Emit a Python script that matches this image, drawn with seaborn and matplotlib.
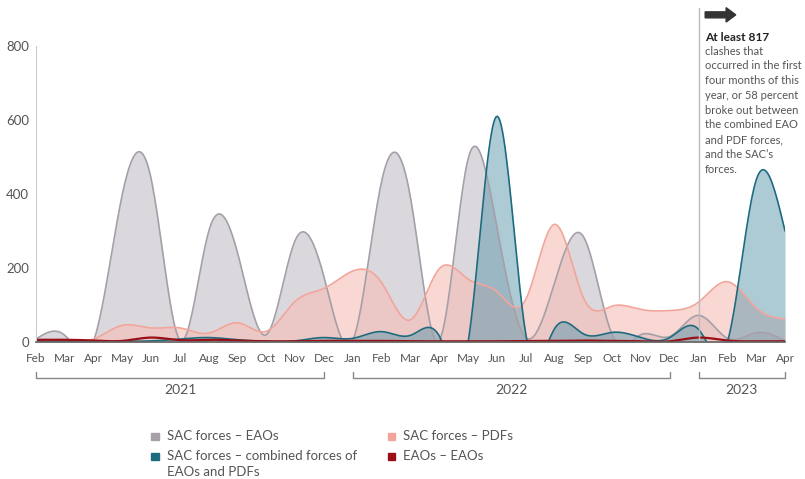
import numpy as np
import pandas as pd
import seaborn as sns
import matplotlib.pyplot as plt
from matplotlib.patches import FancyArrow, Rectangle

# Data (monthly clash counts, Feb 2021 - Apr 2023) ###########################

months = ['Feb', 'Mar', 'Apr', 'May', 'Jun', 'Jul', 'Aug', 'Sep', 'Oct', 'Nov', 'Dec',
          'Jan', 'Feb', 'Mar', 'Apr', 'May', 'Jun', 'Jul', 'Aug', 'Sep', 'Oct', 'Nov', 'Dec',
          'Jan', 'Feb', 'Mar', 'Apr']
years = ['2021', '2022', '2023']

sac_eaos = [8, 18, 3, 400, 440, 5, 300, 240, 20, 275, 175,
            5, 435, 390, 5, 495, 310, 12, 160, 285, 20, 20, 15,
            72, 10, 25, 3]
sac_pdfs = [3, 3, 8, 45, 38, 38, 24, 52, 29, 110, 145,
            192, 160, 60, 198, 170, 136, 115, 318, 120, 97, 88, 85,
            108, 163, 92, 62]
sac_combined = [2, 2, 2, 2, 3, 8, 12, 6, 2, 3, 12,
                10, 28, 18, 16, 0, 610, 22, 36, 22, 26, 12, 12,
                34, 0, 438, 300]
eaos_eaos = [6, 6, 4, 3, 12, 5, 6, 4, 2, 2, 3,
             3, 3, 2, 2, 2, 2, 3, 3, 4, 3, 2, 2,
             12, 4, 2, 2]

series = {
    'SAC forces – EAOs': sac_eaos,
    'SAC forces – PDFs': sac_pdfs,
    'SAC forces – combined forces of\nEAOs and PDFs': sac_combined,
    'EAOs – EAOs': eaos_eaos,
}
line_colors = ['#a59fa8', '#f2a59b', '#1e6b80', '#9a0f16']
fill_colors = ['#c9c3cc', '#f6bdb6', '#5c98ad', '#9a0f16']
fill_alpha = [0.65, 0.6, 0.5, 0.0]


def natural_spline(x, y, xs):
    # smooth curve through the monthly points (area-spline look)
    x = np.asarray(x, float)
    y = np.asarray(y, float)
    n = len(x)
    h = np.diff(x)
    A = np.zeros((n, n))
    b = np.zeros(n)
    A[0, 0] = A[-1, -1] = 1
    for i in range(1, n - 1):
        A[i, i - 1] = h[i - 1]
        A[i, i] = 2 * (h[i - 1] + h[i])
        A[i, i + 1] = h[i]
        b[i] = 3 * ((y[i + 1] - y[i]) / h[i] - (y[i] - y[i - 1]) / h[i - 1])
    c = np.linalg.solve(A, b)
    bc = (y[1:] - y[:-1]) / h - h * (2 * c[:-1] + c[1:]) / 3
    d = (c[1:] - c[:-1]) / (3 * h)
    idx = np.clip(np.searchsorted(x, xs) - 1, 0, n - 2)
    dx = xs - x[idx]
    return y[idx] + bc[idx] * dx + c[idx] * dx ** 2 + d[idx] * dx ** 3


x_idx = np.arange(len(months))
x_fine = np.linspace(0, len(months) - 1, 600)

frames = []
for name, vals in series.items():
    frames.append(pd.DataFrame({'x': x_fine, 'y': natural_spline(x_idx, vals, x_fine), 'series': name}))
df = pd.concat(frames, ignore_index=True)

# Plot #######################################################################

sns.set_style('white')
plt.rcParams['font.family'] = ['Lato', 'DejaVu Sans']

fig = plt.figure(figsize=(8.05, 4.79), dpi=100)
ax = fig.add_axes([0.0447, 0.286, 0.9305, 0.618])

for (name, _), fc, a in zip(series.items(), fill_colors, fill_alpha):
    sub = df[df['series'] == name]
    if a > 0:
        ax.fill_between(sub['x'], 0, sub['y'], color=fc, alpha=a, lw=0)

sns.lineplot(data=df, x='x', y='y', hue='series', palette=line_colors,
             linewidth=1.2, legend=False, ax=ax, sort=False)
for ln, name in zip(ax.lines, series):
    if name == 'EAOs – EAOs':
        ln.set_linewidth(1.6)

ax.set_xlim(0, len(months) - 1)
ax.set_ylim(0, 800)
ax.set_yticks([0, 200, 400, 600, 800])
ax.set_xticks(x_idx)
ax.set_xticklabels(months)
ax.set_xlabel('')
ax.set_ylabel('')
ax.tick_params(axis='x', length=5, width=1, color='#666666', labelsize=8.5,
               labelcolor='#555555', pad=3)
ax.tick_params(axis='y', length=3, width=0.8, color='#cccccc', labelsize=9.5,
               labelcolor='#555555', pad=2)
for s in ['top', 'right']:
    ax.spines[s].set_visible(False)
ax.spines['left'].set_color('#cccccc')
ax.spines['bottom'].set_color('#666666')
ax.spines['bottom'].set_linewidth(1.2)

# vertical marker at Jan 2023
ax.plot([23, 23], [0, 1.128], color='#bbbbbb', lw=1,
        transform=ax.get_xaxis_transform(), clip_on=False)

# year brackets
tr = ax.get_xaxis_transform()
for (x0, x1), yr in zip([(0, 10), (11, 22), (23, 26)], years):
    ax.plot([x0, x0, x1, x1], [-0.101, -0.1216, -0.1216, -0.101], color='#888888',
            lw=1, transform=tr, clip_on=False)
    ax.text((x0 + x1) / 2, -0.163, yr, transform=tr, ha='center', va='center',
            fontsize=10, color='#555555')

# annotation
fig.patches.append(FancyArrow(0.876, 0.969, 0.026, 0, width=0.0125, head_width=0.03,
                              head_length=0.012, length_includes_head=False,
                              color='#333333', transform=fig.transFigure))
fig.text(0.876, 0.922, 'At least 817', fontsize=8.6, fontweight='bold', color='#222222',
         va='center', ha='left')
fig.text(0.876, 0.905,
         'clashes that\noccurred in the first\nfour months of this\nyear, or 58 percent\n'
         'broke out between\nthe combined EAO\nand PDF forces,\nand the SAC\u2019s\nforces.',
         fontsize=8.0, color='#555555', va='top', ha='left', linespacing=1.42)

# legend
legend_items = [
    (0.1925, 0.090, 'SAC forces – EAOs', '#a59fa8'),
    (0.486, 0.090, 'SAC forces – PDFs', '#f2a59b'),
    (0.1925, 0.048, 'SAC forces – combined forces of\nEAOs and PDFs', '#1e6b80'),
    (0.486, 0.048, 'EAOs – EAOs', '#9a0f16'),
]
for lx, ly, txt, col in legend_items:
    fig.patches.append(Rectangle((lx - 0.0045, ly - 0.0085), 0.009, 0.0155, color=col,
                                 transform=fig.transFigure))
    fig.text(lx + 0.015, ly + 0.012, txt, fontsize=9.5, color='#555555', va='top',
             ha='left', linespacing=1.35)

fig.savefig('out.png', dpi=100)
